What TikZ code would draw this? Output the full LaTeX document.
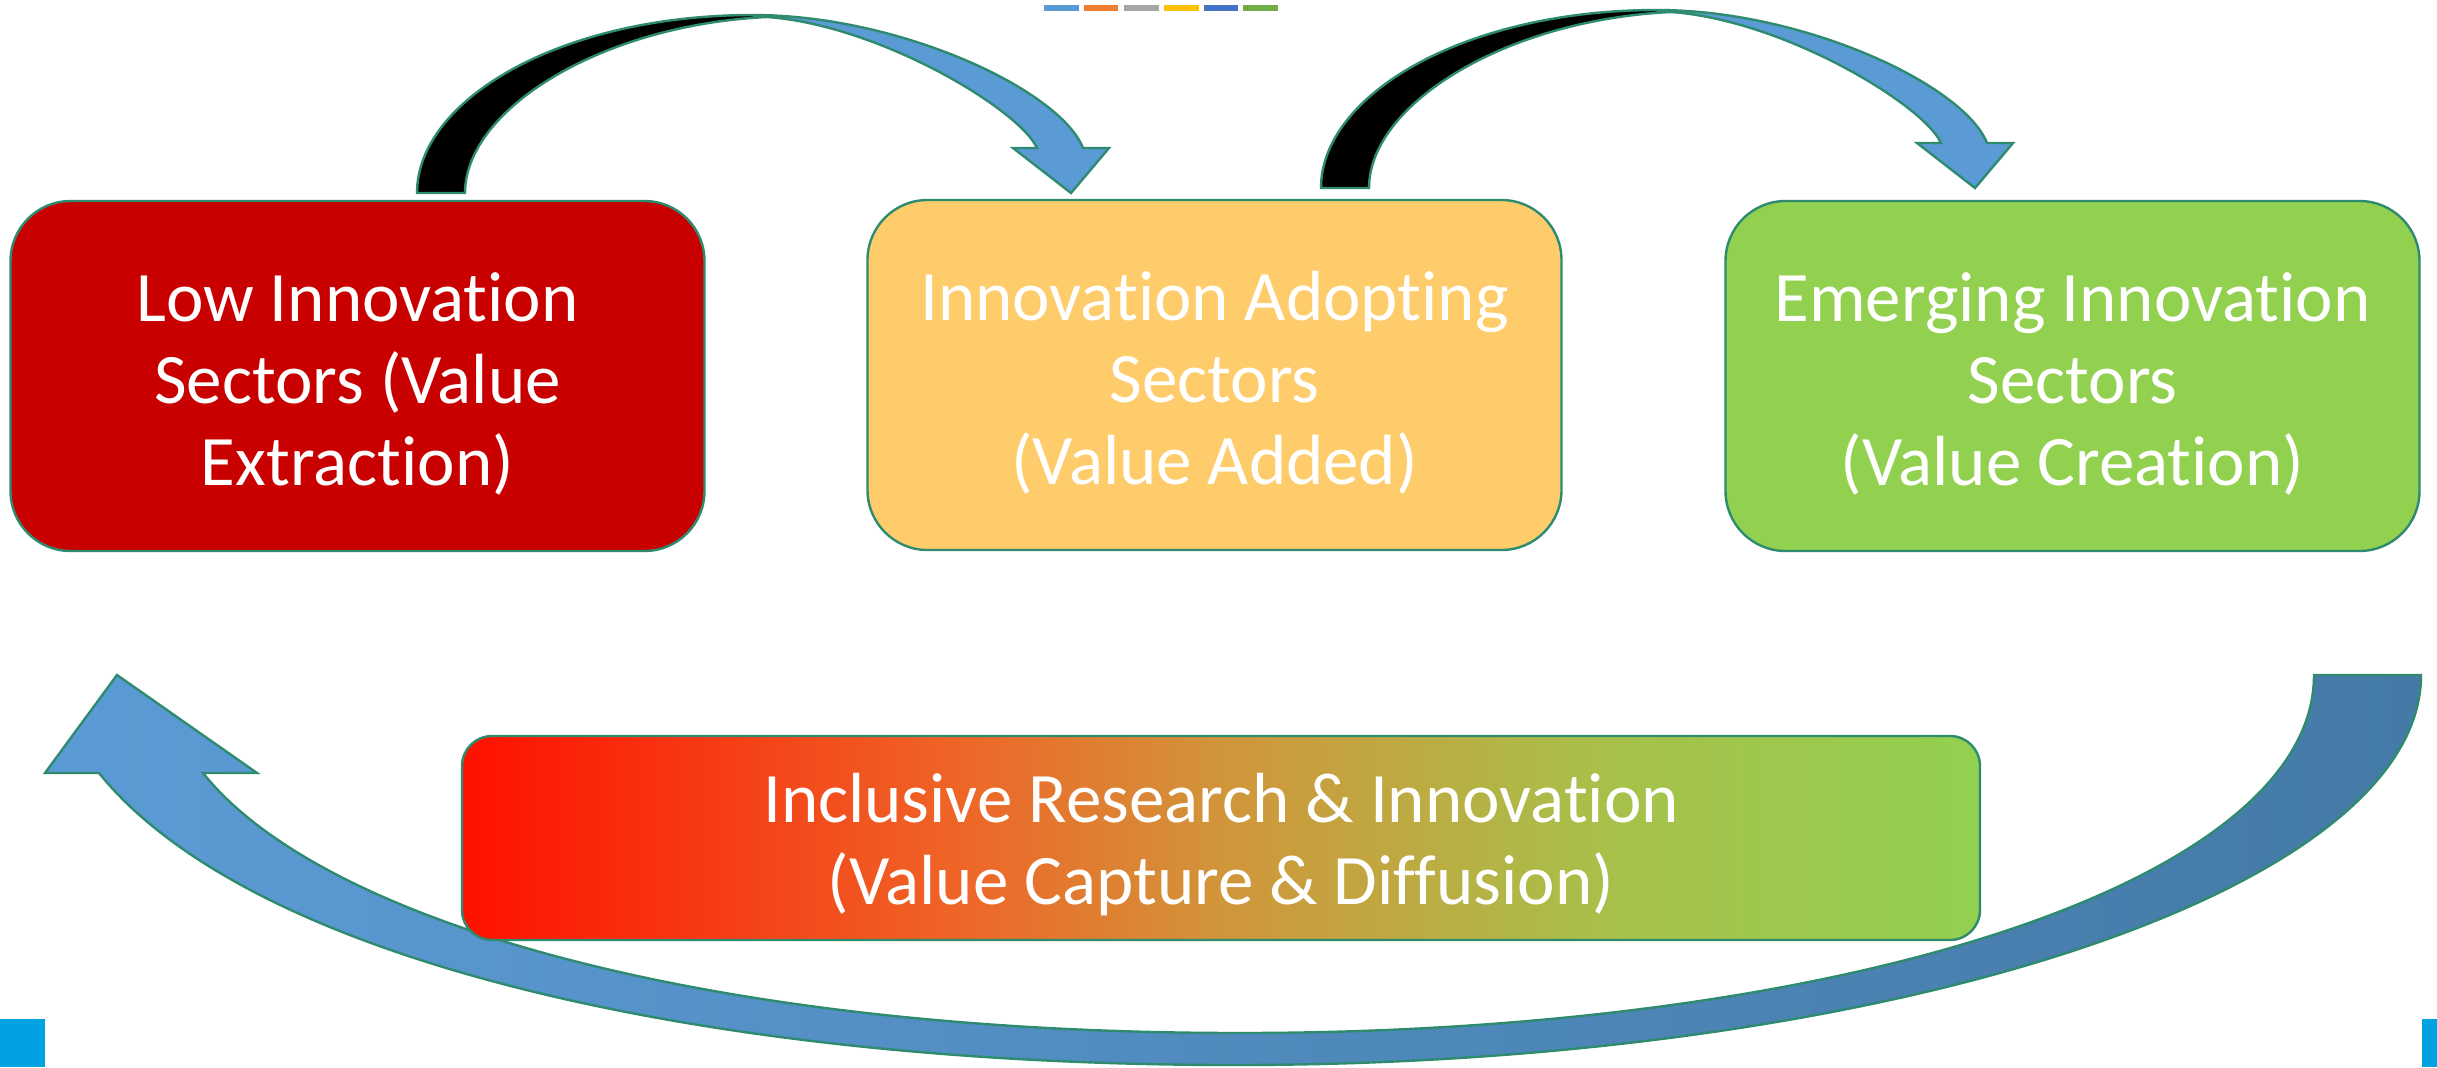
\documentclass[tikz,border=0pt]{standalone}
\usepackage{fontspec}
\setmainfont{Carlito}[Ligatures=NoCommon]
\definecolor{edgeteal}{HTML}{2E8B6F}
\definecolor{boxred}{HTML}{C80000}
\definecolor{boxyellow}{HTML}{FECC6B}
\definecolor{boxgreen}{HTML}{92D050}
\definecolor{arrowblue}{HTML}{5B9BD5}
\definecolor{arrowdark}{HTML}{457AA7}
\definecolor{cornerblue}{HTML}{00A2E1}
\definecolor{barA}{HTML}{5B9BD5}
\definecolor{barB}{HTML}{ED7D31}
\definecolor{barC}{HTML}{A5A5A5}
\definecolor{barD}{HTML}{FFC000}
\definecolor{barE}{HTML}{4472C4}
\definecolor{barF}{HTML}{70AD47}
\definecolor{gA}{HTML}{FF1000}
\definecolor{gB}{HTML}{EE6628}
\definecolor{gC}{HTML}{D1953A}
\definecolor{gD}{HTML}{A8C04A}
\definecolor{gE}{HTML}{92D050}
\pgfdeclarehorizontalshading{iriShade}{100bp}{color(0bp)=(gA); color(25bp)=(gA); color(41.5bp)=(gB); color(50bp)=(gC); color(62.5bp)=(gD); color(75bp)=(gE); color(100bp)=(gE)}
\begin{document}
\begin{tikzpicture}[x={(0.5pt,0)}, y={(0,-0.5pt)},
  outl/.style={draw=edgeteal, line width=1.2pt, line join=miter},
  sector/.style={outl, rounded corners=30pt, minimum width=347pt, minimum height=175pt, inner sep=0pt},
  widebox/.style={outl, rounded corners=15pt, minimum width=759pt, minimum height=102pt,
    inner sep=0pt, shading=iriShade},
  label text/.style={inner sep=0pt, text=white, align=center, font=\fontsize{35.5}{41}\selectfont},
  backpart/.style={outl, fill=black},
  frontpart/.style={outl, fill=arrowblue}]
\useasboundingbox (0,0) rectangle (2437,1067);

% colour bars at top
\fill[barA] (1044,5) rectangle (1079,11);
\fill[barB] (1084,5) rectangle (1118,11);
\fill[barC] (1124,5) rectangle (1159,11);
\fill[barD] (1164,5) rectangle (1199,11);
\fill[barE] (1204,5) rectangle (1238,11);
\fill[barF] (1243,5) rectangle (1278,11);

% corner squares
\fill[cornerblue] (0,1019) rectangle (45,1067);
\fill[cornerblue] (2422,1019) rectangle (2437,1067);

% top curved arrow 1
\filldraw[backpart] (417,193) .. controls (417,100) and (560,15) .. (753,15) -- (767,17)
  .. controls (600,25) and (465,110) .. (465,193) -- cycle;
\filldraw[frontpart] (753,15) .. controls (900,15) and (1060,90) .. (1083,148) -- (1109,148)
  -- (1071,193) -- (1013,148) -- (1037,148) .. controls (1020,110) and (880,25) .. (767,17) -- cycle;

% top curved arrow 2
\begin{scope}[shift={(904,-5)}]
\filldraw[backpart] (417,193) .. controls (417,100) and (560,15) .. (753,15) -- (767,17)
  .. controls (600,25) and (465,110) .. (465,193) -- cycle;
\filldraw[frontpart] (753,15) .. controls (900,15) and (1060,90) .. (1083,148) -- (1109,148)
  -- (1071,193) -- (1013,148) -- (1037,148) .. controls (1020,110) and (880,25) .. (767,17) -- cycle;
\end{scope}

% big return arrow
\filldraw[outl, left color=arrowblue, right color=arrowdark]
  (2314,675) -- (2421,675) .. controls (2421,890) and (1890,1065) .. (1235,1065)
  .. controls (700,1065) and (250,960) .. (99,773) -- (45,773) -- (117,675) -- (257,773)
  -- (203,773) .. controls (320,920) and (700,1033) .. (1240,1033)
  .. controls (1850,1033) and (2314,880) .. (2314,675) -- cycle;

% sector boxes
\node[sector, fill=boxred] (low) at (357.5,376) {};
\node[label text] (lowtext) at ([yshift=-4pt]low.center) {Low Innovation\\Sectors (Value\\Extraction)};
\node[sector, fill=boxyellow] (adopt) at (1214.5,375) {};
\node[label text] (adopttext) at ([yshift=-4pt]adopt.center) {Innovation Adopting\\Sectors\\(Value Added)};
\node[sector, fill=boxgreen] (emerg) at (2072.5,376) {};
\node[label text] (emergtext) at ([yshift=-4pt]emerg.center) {Emerging Innovation\\Sectors\\(Value Creation)};

% inclusive box
\node[widebox] (incl) at (1221,838) {};
\node[label text] (incltext) at ([yshift=-3.5pt]incl.center) {Inclusive Research \& Innovation\\(Value Capture \& Diffusion)};
\end{tikzpicture}
\end{document}
